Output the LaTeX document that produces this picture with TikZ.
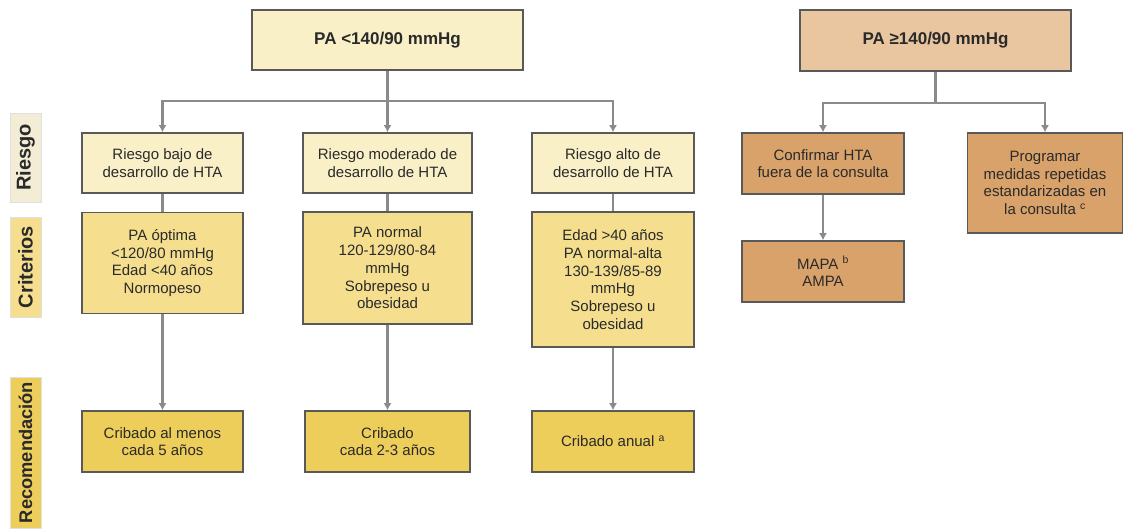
\documentclass[tikz,border=0pt]{standalone}
\usepackage{fontspec}
\setmainfont{Liberation Sans}
\usepackage{tikz}
\usetikzlibrary{arrows.meta}

\definecolor{creamfill}{HTML}{F9F0C8}
\definecolor{sidecream}{HTML}{F4EDD5}
\definecolor{critfill}{HTML}{F5DF8F}
\definecolor{recfill}{HTML}{EECE5B}
\definecolor{peachfill}{HTML}{EAC6A0}
\definecolor{tanfill}{HTML}{D9A26B}
\definecolor{edgegray}{HTML}{595959}
\definecolor{linkgray}{HTML}{8A8A8A}
\definecolor{inkdark}{HTML}{2A2A2A}

\begin{document}
\begin{tikzpicture}[x=1pt, y=-1pt,
    every node/.style={text=inkdark},
    box/.style={draw=edgegray, line width=1.6pt, rectangle, align=center,
                inner sep=2pt, font=\fontsize{15}{17.7}\selectfont},
    headbox/.style={box, font=\fontsize{17}{20}\selectfont\bfseries},
    sidelabel/.style={draw=black!12, line width=0.8pt, rotate=90, inner sep=0pt,
                minimum height=31pt, font=\fontsize{20}{22}\selectfont\bfseries},
    link/.style={draw=linkgray, line width=2.2pt},
    arrowlink/.style={link, -{Latex[length=7pt,width=8pt]}}]
    \useasboundingbox (0,0) rectangle (1124,528);

    % Side labels
    \node[sidelabel, fill=sidecream, minimum width=89pt]  (LabelRiesgo)    at (25.5,157.5) {Riesgo};
    \node[sidelabel, fill=critfill, minimum width=100pt]  (LabelCriterios) at (25.5,267)   {Criterios};
    \node[sidelabel, fill=recfill, minimum width=151pt,
          font=\fontsize{18.3}{22}\selectfont\bfseries]  (LabelRecom)     at (25.5,452.5) {Recomendación};

    % Left branch: PA < 140/90
    \node[headbox, fill=creamfill, minimum width=271pt, minimum height=60pt] (Low) at (387.5,40) {PA <140/90 mmHg};
    \coordinate (LowSplit) at (387.5,101);

    \node[box, fill=creamfill, minimum width=161pt, minimum height=60pt] (RiskLow)  at (162.5,163) {Riesgo bajo de\\desarrollo de HTA};
    \node[box, fill=creamfill, minimum width=169pt, minimum height=60pt] (RiskMod)  at (387.5,163) {Riesgo moderado de\\desarrollo de HTA};
    \node[box, fill=creamfill, minimum width=162pt, minimum height=60pt] (RiskHigh) at (613,163)   {Riesgo alto de\\desarrollo de HTA};

    \node[box, fill=critfill, minimum width=161pt, minimum height=101pt] (CritLow)  at (162.5,263)   {PA óptima\\<120/80 mmHg\\Edad <40 años\\Normopeso};
    \node[box, fill=critfill, minimum width=169pt, minimum height=112pt] (CritMod)  at (387.5,268)   {PA normal\\120-129/80-84\\mmHg\\Sobrepeso u\\obesidad};
    \node[box, fill=critfill, minimum width=162pt, minimum height=135pt] (CritHigh) at (613,279.5)   {Edad >40 años\\PA normal-alta\\130-139/85-89\\mmHg\\Sobrepeso u\\obesidad};

    \node[box, fill=recfill, minimum width=161pt, minimum height=61pt] (RecLow)  at (162.5,441.5) {Cribado al menos\\cada 5 años};
    \node[box, fill=recfill, minimum width=165pt, minimum height=61pt] (RecMod)  at (387.5,441.5) {Cribado\\cada 2-3 años};
    \node[box, fill=recfill, minimum width=162pt, minimum height=61pt] (RecHigh) at (613,441.5)   {Cribado anual \textsuperscript{a}};

    % Right branch: PA >= 140/90
    \node[headbox, fill=peachfill, minimum width=271pt, minimum height=61pt] (High) at (935.5,40.5) {PA ≥140/90 mmHg};
    \coordinate (HighSplit) at (935.5,103);

    \node[box, fill=tanfill, minimum width=162pt, minimum height=61pt]  (Confirm) at (823,163.5)  {Confirmar HTA\\fuera de la consulta};
    \node[box, fill=tanfill, minimum width=162pt, minimum height=61pt]  (Mapa)    at (823,271.5)  {MAPA \textsuperscript{b}\\AMPA};
    \node[box, fill=tanfill, minimum width=155pt, minimum height=100pt] (Program) at (1045,183)   {Programar\\medidas repetidas\\estandarizadas en\\la consulta \textsuperscript{c}};

    % Connectors
    \draw[link] (Low) -- (LowSplit);
    \draw[arrowlink] (LowSplit) -| (RiskLow.north);
    \draw[arrowlink] (LowSplit) -- (RiskMod.north);
    \draw[arrowlink] (LowSplit) -| (RiskHigh.north);
    \foreach \col in {Low,Mod,High}{% risk -> criteria -> recommendation
      \draw[link] (Risk\col) -- (Crit\col);
      \draw[arrowlink] (Crit\col) -- (Rec\col);
    }
    \draw[link] (High) -- (HighSplit);
    \draw[arrowlink] (HighSplit) -| (Confirm.north);
    \draw[arrowlink] (HighSplit) -| (Program.north);
    \draw[arrowlink] (Confirm) -- (Mapa);
\end{tikzpicture}
\end{document}
